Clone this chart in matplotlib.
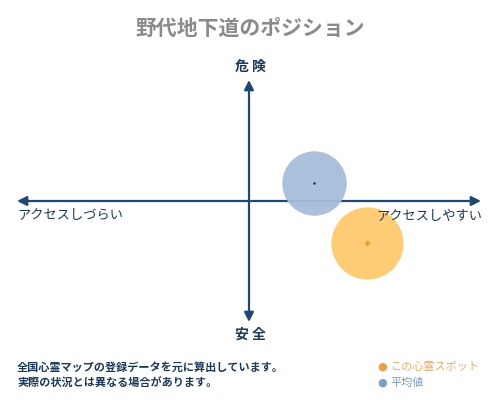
import matplotlib
matplotlib.use("Agg")
import matplotlib.pyplot as plt

plt.rcParams['font.family'] = ['Noto Sans CJK JP', 'DejaVu Sans']

title = "野代地下道のポジション"
y_labels = ["危 険", "安 全"]
x_labels = ["アクセスしづらい", "アクセスしやすい"]
series_names = ["この心霊スポット", "平均値"]
spot_xy = [0.51, -0.35]
avg_xy = [0.28, 0.15]
notes = ["全国心霊マップの登録データを元に算出しています。",
         "実際の状況とは異なる場合があります。"]

W, H = 500, 400
fig = plt.figure(figsize=(W / 100, H / 100), dpi=100)
fig.patch.set_facecolor("white")

# quadrant axes: x from 17 to 481 px, y from 80 to 320 px
x0, x1 = 17, 481
ytop, ybot = 80, 322
ax = fig.add_axes([x0 / W, 1 - ybot / H, (x1 - x0) / W, (ybot - ytop) / H])
ax.set_xlim(-1, 1)
ax.set_ylim(-1, 1)
ax.axis("off")

navy = "#1d4a75"
arrow_kw = dict(arrowstyle="-|>,head_length=0.7,head_width=0.35", color=navy, lw=1.6,
                shrinkA=0, shrinkB=0, mutation_scale=8)
ax.annotate("", xy=(1, 0), xytext=(0, 0), arrowprops=arrow_kw)
ax.annotate("", xy=(-1, 0), xytext=(0, 0), arrowprops=arrow_kw)
ax.annotate("", xy=(0, 1), xytext=(0, 0), arrowprops=arrow_kw)
ax.annotate("", xy=(0, -1), xytext=(0, 0), arrowprops=arrow_kw)

ax.scatter([avg_xy[0]], [avg_xy[1]], s=2150, color="#a7bdd8", alpha=0.95, zorder=3, lw=0)
ax.scatter([avg_xy[0]], [avg_xy[1]], s=3, color="#1a2a3a", zorder=4, lw=0)
ax.scatter([spot_xy[0]], [spot_xy[1]], s=2700, color="#fdca6c", alpha=0.95, zorder=3, lw=0)
ax.scatter([spot_xy[0]], [spot_xy[1]], s=10, color="#f0a020", marker="D", zorder=4, lw=0)

txt = "#1a3a5c"
fig.text(0.5, 1 - 28 / H, title, ha="center", va="center", fontsize=15,
         fontweight="bold", color="#8a8a8a")
fig.text(250 / W, 1 - 67 / H, y_labels[0], ha="center", va="center", fontsize=10,
         fontweight="bold", color=txt)
fig.text(250 / W, 1 - 335 / H, y_labels[1], ha="center", va="center", fontsize=10,
         fontweight="bold", color=txt)
fig.text(17 / W, 1 - 216 / H, x_labels[0], ha="left", va="center", fontsize=9.5,
         color=txt)
fig.text(482 / W, 1 - 216 / H, x_labels[1], ha="right", va="center", fontsize=9.5,
         color=txt)

fig.text(17 / W, 1 - 367 / H, notes[0], ha="left", va="center", fontsize=8,
         fontweight="bold", color=txt)
fig.text(17 / W, 1 - 383 / H, notes[1], ha="left", va="center", fontsize=8,
         fontweight="bold", color=txt)

fig.text(382 / W, 1 - 367 / H, "●", ha="center", va="center", fontsize=8,
         color="#f0a040", family=["DejaVu Sans"])
fig.text(390 / W, 1 - 367 / H, series_names[0], ha="left", va="center", fontsize=8,
         color="#f0a860")
fig.text(382 / W, 1 - 383 / H, "●", ha="center", va="center", fontsize=8,
         color="#7aa0c8", family=["DejaVu Sans"])
fig.text(390 / W, 1 - 383 / H, series_names[1], ha="left", va="center", fontsize=8,
         color="#7a9cc0")

fig.savefig("out.png", dpi=100, facecolor="white")
